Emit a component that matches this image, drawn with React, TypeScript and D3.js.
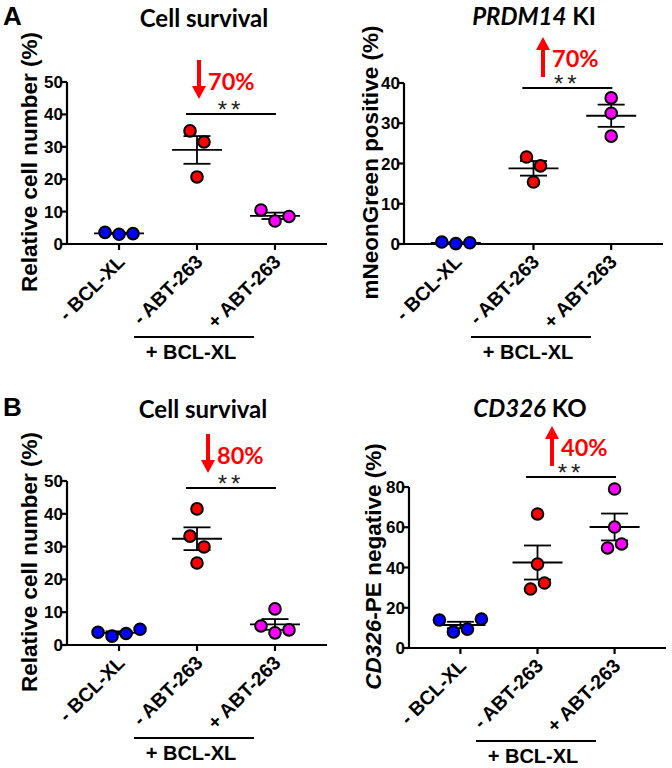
import React from "react";
import * as d3 from "d3";

// ---------- data ----------
const categories = ["- BCL-XL", "- ABT-263", "+ ABT-263"];
const groupLabel = "+ BCL-XL";
const groupColors = ["#0000ff", "#ff0000", "#ff00ff"];

// A: Cell survival (relative cell number %)
const aSurvivalValues = [
  [3.6, 3.0, 3.2],
  [34.9, 31.5, 20.7],
  [10.5, 7.1, 8.5],
];
const aSurvivalJitter = [
  [-1, 0, 1],
  [-0.5, 0.5, 0],
  [-1, 0, 1],
];
const aSurvivalTicks = [0, 10, 20, 30, 40, 50];

// A: PRDM14 KI (mNeonGreen positive %)
const aKiValues = [
  [0.5, 0.1, 0.3],
  [21.6, 19.4, 15.4],
  [36.3, 32.5, 26.8],
];
const aKiJitter = [
  [-1, 0, 1],
  [-0.5, 0.5, 0],
  [0, 0, 0],
];
const aKiTicks = [0, 10, 20, 30, 40];

// B: Cell survival
const bSurvivalValues = [
  [3.9, 2.7, 3.5, 4.8],
  [41.5, 33.2, 29.9, 25.0],
  [11.0, 5.8, 3.7, 4.6],
];
const bSurvivalJitter = [
  [-1.5, -0.5, 0.5, 1.5],
  [0, -0.5, 0.5, 0],
  [0, -1, 0, 1],
];
const bSurvivalTicks = [0, 10, 20, 30, 40, 50];

// B: CD326 KO (CD326-PE negative %)
const bKoValues = [
  [13.9, 8.0, 9.4, 14.4],
  [66.6, 41.7, 32.3, 29.3],
  [79.0, 60.1, 49.7, 51.7],
];
const bKoJitter = [
  [-1.5, -0.5, 0.5, 1.5],
  [0, 0, 0.5, -0.5],
  [0, 0, -0.5, 0.5],
];
const bKoTicks = [0, 20, 40, 60, 80];

// ---------- layout / style ----------
const ARIAL = "'Liberation Sans', Arial, sans-serif";
const TITLE_FONT = "Lato, 'Open Sans', sans-serif";

type Part = { t: string; i?: boolean };

type PanelCfg = {
  values: number[][];
  jitter: number[][];
  ticks: number[];
  yMax: number;
  title: Part[];
  yLabel: Part[];
  change: string;
  up: boolean;
  letter?: string;
  // layout
  ax: number; // y axis x
  ax2: number; // x axis right end
  yTop: number;
  yBot: number;
  titleX: number;
  titleY: number;
  yLabelX: number;
  sigY: number;
  arrowX: number;
};

const panels: PanelCfg[] = [
  {
    values: aSurvivalValues, jitter: aSurvivalJitter, ticks: aSurvivalTicks, yMax: 50,
    title: [{ t: "Cell survival" }], yLabel: [{ t: "Relative cell number (%)" }],
    change: "70%", up: false, letter: "A",
    ax: 67, ax2: 327, yTop: 82, yBot: 244, titleX: 204, titleY: 27, yLabelX: 37, sigY: 114, arrowX: 199,
  },
  {
    values: aKiValues, jitter: aKiJitter, ticks: aKiTicks, yMax: 40,
    title: [{ t: "PRDM14", i: true }, { t: " KI" }], yLabel: [{ t: "mNeonGreen positive (%)" }],
    change: "70%", up: true,
    ax: 404, ax2: 663, yTop: 83, yBot: 244, titleX: 534, titleY: 25, yLabelX: 378, sigY: 88, arrowX: 543,
  },
  {
    values: bSurvivalValues, jitter: bSurvivalJitter, ticks: bSurvivalTicks, yMax: 50,
    title: [{ t: "Cell survival" }], yLabel: [{ t: "Relative cell number (%)" }],
    change: "80%", up: false, letter: "B",
    ax: 67, ax2: 327, yTop: 481, yBot: 645, titleX: 203, titleY: 418, yLabelX: 37, sigY: 488, arrowX: 208,
  },
  {
    values: bKoValues, jitter: bKoJitter, ticks: bKoTicks, yMax: 80,
    title: [{ t: "CD326", i: true }, { t: " KO" }], yLabel: [{ t: "CD326", i: true }, { t: "-PE negative (%)" }],
    change: "40%", up: true,
    ax: 409, ax2: 666, yTop: 487, yBot: 648, titleX: 530, titleY: 417, yLabelX: 381, sigY: 477, arrowX: 552,
  },
];

const JIT = 14;
const MEAN_HALF = 25;
const CAP_HALF = 13.5;
const R = 5.8;

function Panel({ c }: { c: PanelCfg }) {
  const y = d3.scaleLinear().domain([0, c.yMax]).range([c.yBot, c.yTop]);
  const x = d3.scalePoint<string>().domain(categories).range([c.ax, c.ax2]).padding(0.667);
  const stats = c.values.map((v) => {
    const m = d3.mean(v) as number;
    const sem = (d3.deviation(v) as number) / Math.sqrt(v.length);
    return { m, sem };
  });
  const c1 = x(categories[1]) as number;
  const c2 = x(categories[2]) as number;
  const sigMid = (c1 + c2) / 2 - 5;
  const aTip = c.up ? c.sigY - 51 : c.sigY - 15;
  const aTail = c.up ? c.sigY - 11 : c.sigY - 54;
  const headLen = 13;
  const headHalf = 7;
  const shaftEnd = c.up ? aTip + headLen - 1 : aTip - headLen + 1;
  const underlineY = c.yBot + 93;
  const ulX0 = c.ax + 67;
  const ulX1 = c.ax + 187;
  return (
    <g>
      {c.letter && (
        <text x={3} y={c.titleY - 2} fontFamily={ARIAL} fontWeight="bold" fontSize={26}>
          {c.letter}
        </text>
      )}
      <text x={c.titleX} y={c.titleY} textAnchor="middle" fontFamily={TITLE_FONT} fontWeight="bold" fontSize={24}>
        {c.title.map((p, i) => (
          <tspan key={i} fontStyle={p.i ? "italic" : "normal"}>{p.t}</tspan>
        ))}
      </text>
      {/* y label */}
      <text
        transform={`translate(${c.yLabelX},${(c.yTop + c.yBot) / 2 - 1}) rotate(-90)`}
        textAnchor="middle" fontFamily={ARIAL} fontWeight="bold" fontSize={22.5}
      >
        {c.yLabel.map((p, i) => (
          <tspan key={i} fontStyle={p.i ? "italic" : "normal"}>{p.t}</tspan>
        ))}
      </text>
      {/* y axis */}
      <line x1={c.ax} x2={c.ax} y1={c.yTop} y2={c.yBot} stroke="#000" strokeWidth={2.2} />
      {c.ticks.map((t) => (
        <g key={t}>
          <line x1={c.ax - 5} x2={c.ax} y1={y(t)} y2={y(t)} stroke="#000" strokeWidth={2.2} />
          <text x={c.ax - 4} y={y(t) + 6} textAnchor="end" fontFamily={ARIAL} fontWeight="bold" fontSize={17}>
            {t}
          </text>
        </g>
      ))}
      {/* x axis */}
      <line x1={c.ax - 1} x2={c.ax2} y1={c.yBot} y2={c.yBot} stroke="#000" strokeWidth={2.2} />
      {categories.map((cat) => (
        <g key={cat}>
          <line x1={x(cat)} x2={x(cat)} y1={c.yBot} y2={c.yBot + 6} stroke="#000" strokeWidth={2.2} />
          <text
            transform={`translate(${(x(cat) as number) + 7},${c.yBot + 19}) rotate(-45)`}
            textAnchor="end" fontFamily={ARIAL} fontWeight="bold" fontSize={19.5}
          >
            {cat}
          </text>
        </g>
      ))}
      <line x1={ulX0} x2={ulX1} y1={underlineY} y2={underlineY} stroke="#000" strokeWidth={2.2} />
      <text x={(ulX0 + ulX1) / 2 - 3} y={underlineY + 22} textAnchor="middle" fontFamily={ARIAL} fontWeight="bold" fontSize={20}>
        {groupLabel}
      </text>
      {/* mean & SEM */}
      {stats.map((s, gi) => {
        const cx = x(categories[gi]) as number;
        return (
          <g key={gi} stroke="#000" strokeWidth={1.8}>
            <line x1={cx - MEAN_HALF} x2={cx + MEAN_HALF} y1={y(s.m)} y2={y(s.m)} />
            <line x1={cx} x2={cx} y1={y(s.m - s.sem)} y2={y(s.m + s.sem)} />
            <line x1={cx - CAP_HALF} x2={cx + CAP_HALF} y1={y(s.m + s.sem)} y2={y(s.m + s.sem)} />
            <line x1={cx - CAP_HALF} x2={cx + CAP_HALF} y1={y(s.m - s.sem)} y2={y(s.m - s.sem)} />
          </g>
        );
      })}
      {/* points */}
      {c.values.map((vals, gi) =>
        vals.map((v, pi) => (
          <circle
            key={`${gi}-${pi}`}
            cx={(x(categories[gi]) as number) + c.jitter[gi][pi] * JIT}
            cy={y(v)}
            r={R}
            fill={groupColors[gi]}
            stroke="#000"
            strokeWidth={2}
          />
        ))
      )}
      {/* significance */}
      <line x1={sigMid - 45} x2={sigMid + 45} y1={c.sigY} y2={c.sigY} stroke="#000" strokeWidth={2} />
      <text x={sigMid} y={c.sigY + 4} textAnchor="middle" fontFamily={ARIAL} fontSize={24} letterSpacing={4} fill="#222">
        **
      </text>
      {/* arrow */}
      <line x1={c.arrowX} x2={c.arrowX} y1={aTail} y2={shaftEnd} stroke="#ff0000" strokeWidth={4} />
      <polygon
        points={`${c.arrowX - headHalf},${c.up ? aTip + headLen : aTip - headLen} ${c.arrowX + headHalf},${c.up ? aTip + headLen : aTip - headLen} ${c.arrowX},${aTip}`}
        fill="#ff0000"
      />
      <text x={c.arrowX + 9} y={c.up ? c.sigY - 21 : c.sigY - 24} fontFamily={TITLE_FONT} fontWeight="bold" fontSize={23.5} fill="#ff0000">
        {c.change}
      </text>
    </g>
  );
}

export default function App() {
  return (
    <svg
      width={672}
      height={768}
      viewBox="0 0 672 768"
      style={{ position: "absolute", left: 0, top: 0, background: "#fff" }}
    >
      <rect width={672} height={768} fill="#fff" />
      {panels.map((p, i) => (
        <Panel key={i} c={p} />
      ))}
    </svg>
  );
}
